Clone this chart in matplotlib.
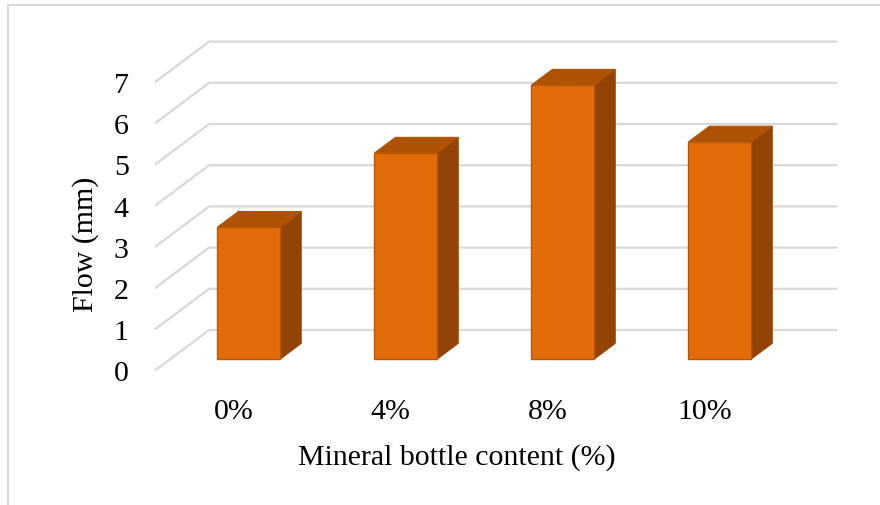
import matplotlib.pyplot as plt
from matplotlib.patches import Polygon, Rectangle

plt.rcParams['font.family'] = ['Liberation Serif', 'DejaVu Serif']

categories = ['0%', '4%', '8%', '10%']
flow = [3.2, 5.0, 6.65, 5.27]
yticks = [0, 1, 2, 3, 4, 5, 6, 7]

# fake 3d depth (x in category units, y in value units)
DX = 0.345
DY = 0.983
d0 = 0.284
d1 = 0.67
bar_w = 0.40

front_c = '#E36C0A'
top_c = '#B05204'
side_c = '#934305'
edge_c = '#B8580C'
grid_c = '#D9D9D9'

fig = plt.figure(figsize=(8.8, 5.06), dpi=100)
ax = fig.add_axes([155 / 880, (506 - 371.5) / 506, 628 / 880, 7 * 41.2 / 506])
ax.set_xlim(0, 4)
ax.set_ylim(0, 7)
for s in ax.spines.values():
    s.set_visible(False)

# walls gridlines
for v in yticks:
    ax.plot([0, DX, 4 + DX], [v, v + DY, v + DY], color=grid_c, lw=1.6,
            clip_on=False, zorder=1, solid_capstyle='butt')

# bars
for i, val in enumerate(flow):
    x0 = i + 0.5 - bar_w / 2
    fx = x0 + d0 * DX
    fy = d0 * DY
    ddx = (d1 - d0) * DX
    ddy = (d1 - d0) * DY
    side = [(fx + bar_w, fy), (fx + bar_w + ddx, fy + ddy),
            (fx + bar_w + ddx, fy + ddy + val), (fx + bar_w, fy + val)]
    top = [(fx, fy + val), (fx + bar_w, fy + val),
           (fx + bar_w + ddx, fy + val + ddy), (fx + ddx, fy + val + ddy)]
    ax.add_patch(Polygon(side, closed=True, fc=side_c, ec=side_c, lw=0.8,
                         zorder=3, clip_on=False))
    ax.add_patch(Polygon(top, closed=True, fc=top_c, ec=top_c, lw=0.8,
                         zorder=3, clip_on=False))
    ax.add_patch(Rectangle((fx, fy), bar_w, val, fc=front_c, ec=edge_c,
                           lw=1.0, zorder=4, clip_on=False))

fs = 21.5
ax.set_yticks(yticks)
ax.set_yticklabels([str(v) for v in yticks], fontsize=fs)
ax.set_xticks([i + 0.5 for i in range(len(categories))])
ax.set_xticklabels(categories, fontsize=fs)
ax.tick_params(axis='y', length=0, pad=19)
ax.tick_params(axis='x', length=0, pad=20)

ax.set_ylabel('Flow (mm)', fontsize=fs, va='center')
ax.yaxis.set_label_coords((86 - 155) / 628, (371.5 - 244) / 288.4)
ax.set_xlabel('Mineral bottle content (%)', fontsize=fs, va='center')
ax.xaxis.set_label_coords((457 - 155) / 628, (371.5 - 458) / 288.4)

# chart frame
fig.patches.append(Rectangle((7.5 / 880, -0.1), 2, 1 - 6 / 506 + 0.1,
                             transform=fig.transFigure, fill=False,
                             ec=grid_c, lw=1.5))

fig.savefig('out.png', dpi=100)
